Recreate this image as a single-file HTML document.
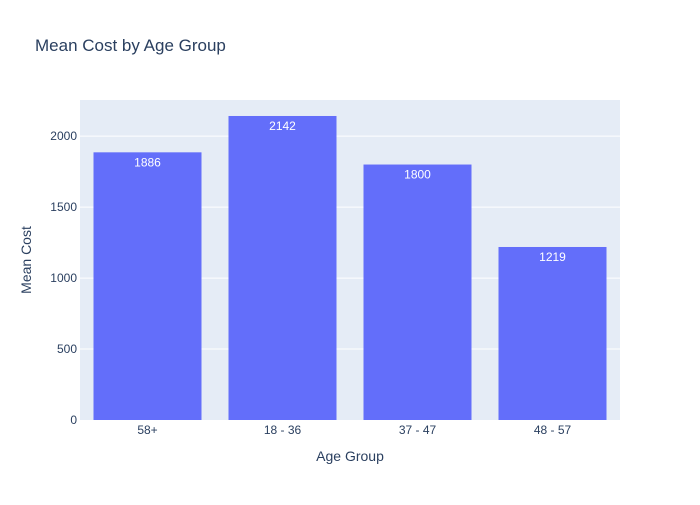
<!DOCTYPE html>
<html><head><meta charset="utf-8"><style>
body{margin:0;background:#fff;font-family:"Liberation Sans",Arial,sans-serif;}
svg text{font-family:"Liberation Sans",Arial,sans-serif;}
</style></head><body>
<svg id="chart" width="700" height="500" xmlns="http://www.w3.org/2000/svg">
<rect width="700" height="500" fill="#fff"/>
<text x="35" y="51" font-size="17" fill="#2a3f5f">Mean Cost by Age Group</text>
<rect x="80" y="100" width="540" height="320" fill="#e5ecf6"/>
<g id="grid"></g><g id="bars"></g><g id="xt"></g><g id="yt"></g>
<text x="350" y="461" font-size="14" fill="#2a3f5f" text-anchor="middle">Age Group</text>
<text transform="translate(31,260) rotate(-90)" font-size="14" fill="#2a3f5f" text-anchor="middle">Mean Cost</text>
</svg>
<script>
const categories=["58+","18 - 36","37 - 47","48 - 57"];
const values=[1886,2142,1800,1219];
const yTicks=[0,500,1000,1500,2000];
const NS="http://www.w3.org/2000/svg";
const L=80,R=620,T=100,B=420;
const yMax=Math.max(...values)*1.0526;
const y=v=>B-(v/yMax)*(B-T);
const band=(R-L)/categories.length;
const x=i=>L+band*i;
function mk(t,a,p){const e=document.createElementNS(NS,t);for(const k in a)e.setAttribute(k,a[k]);p.appendChild(e);return e;}
const grid=document.getElementById('grid'),yt=document.getElementById('yt'),xt=document.getElementById('xt'),bars=document.getElementById('bars');
yTicks.forEach(v=>{
 if(v>0){const g=mk('line',{x1:L,x2:R,y1:y(v),y2:y(v),stroke:'#fff','stroke-width':1},grid);
 
 }
 const t=mk('text',{x:L-3,y:y(v)+4,'font-size':12,fill:'#2a3f5f','text-anchor':'end'},yt);t.textContent=v;
 
 
});
categories.forEach((c,i)=>{
 const bx=x(i)+band*0.1,bw=band*0.8;
 const r=mk('rect',{x:bx,y:y(values[i]),width:bw,height:B-y(values[i]),fill:'#636efa'},bars);
 
 
 const l=mk('text',{x:bx+bw/2,y:y(values[i])+14,'font-size':12,fill:'#fff','text-anchor':'middle'},bars);l.textContent=values[i];
 
 
 const t=mk('text',{x:bx+bw/2,y:B+14,'font-size':12,fill:'#2a3f5f','text-anchor':'middle'},xt);t.textContent=c;
 
 
});
</script>
</body></html>
